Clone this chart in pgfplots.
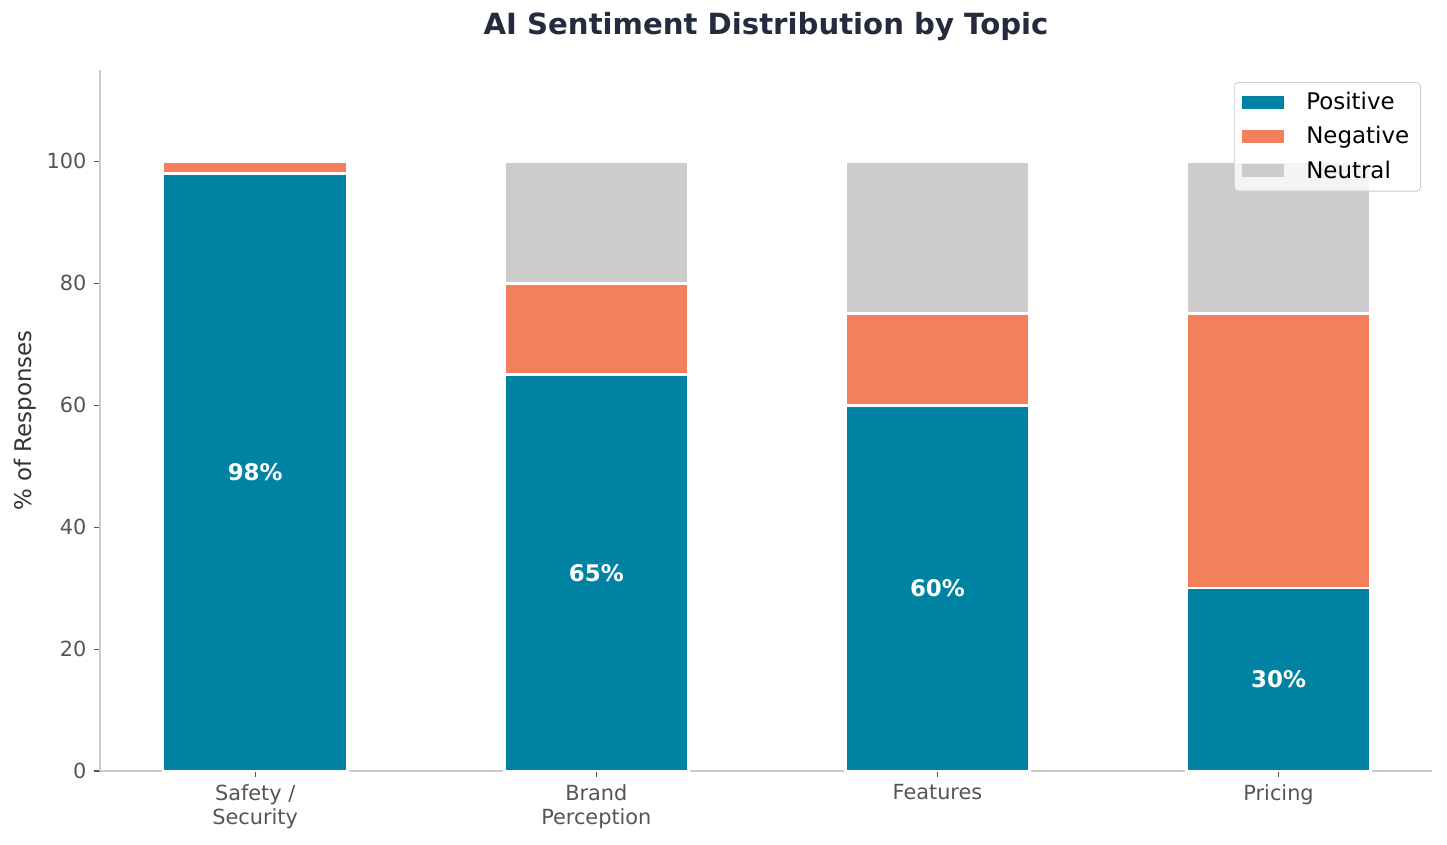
\documentclass[border=0pt]{standalone}
\usepackage{pgfplots}
\pgfplotsset{compat=1.18}
\usepackage{fontspec}
\setmainfont{DejaVu Sans}
\definecolor{pos}{RGB}{0,131,162}
\definecolor{neg}{RGB}{244,127,92}
\definecolor{neu}{RGB}{205,203,206}
\definecolor{spine}{RGB}{204,204,204}
\definecolor{tickgray}{RGB}{85,85,85}
\definecolor{titlec}{RGB}{38,42,62}
\definecolor{labelc}{RGB}{51,51,51}
\begin{document}
\begin{tikzpicture}
\begin{axis}[
  at={(0pt,0pt)}, anchor=south west,
  scale only axis, width=639.4pt, height=336.5pt,
  ybar stacked, bar width=0.54,
  xmin=-0.455, xmax=3.45, ymin=0, ymax=115,
  axis x line*=bottom, axis y line*=left,
  axis line style={draw=spine, line width=0.75pt, -},
  tick align=outside,
  major tick length=3pt,
  tick style={draw=tickgray, line width=0.5pt},
  xtick={0,1,2,3},
  xticklabels={{Safety /\\Security},{Brand\\Perception},{Features},{Pricing}},
  xticklabel style={align=center, font=\fontsize{10}{11.5}\selectfont, text=tickgray},
  ytick={0,20,40,60,80,100},
  yticklabel style={font=\fontsize{10}{12}\selectfont, text=tickgray},
  /pgf/number format/assume math mode=true,
  ylabel={\% of Responses},
  ylabel style={at={(axis description cs:0,0.5)}, anchor=center, yshift=36pt, font=\fontsize{11}{13}\selectfont, text=labelc},
  title={\bfseries AI Sentiment Distribution by Topic},
  title style={at={(axis description cs:0.5,1)}, anchor=center, yshift=14.6pt, font=\fontsize{14}{16}\selectfont, text=titlec},
  every axis plot/.append style={draw=white, line width=1.3pt},
  legend cell align=left,
  legend image code/.code={\fill[#1, draw=none, sharp corners, fill opacity=1] (0pt,-3.1pt) rectangle (20.6pt,3.1pt);},
  legend style={at={(1,1)}, anchor=north east, xshift=-5.3pt, yshift=-5.8pt,
    draw=spine, fill=white, fill opacity=0.8, text opacity=1, rounded corners=2pt,
    font=\fontsize{11}{13}\selectfont, row sep=2.5pt, column sep=8.5pt, inner xsep=3.5pt, inner ysep=2.8pt,
    nodes={inner sep=2pt, text=black}},
]
\addplot[fill=pos] coordinates {(0,98) (1,65) (2,60) (3,30)};
\addplot[fill=neg] coordinates {(0,2) (1,15) (2,15) (3,45)};
\addplot[fill=neu] coordinates {(0,0) (1,20) (2,25) (3,25)};
\legend{Positive,Negative,Neutral}
\coordinate (l0) at (axis cs:0,49);
\coordinate (l1) at (axis cs:1,32.5);
\coordinate (l2) at (axis cs:2,30);
\coordinate (l3) at (axis cs:3,15);
\end{axis}
\begin{scope}[every node/.style={text=white, font=\fontsize{11}{13}\selectfont\bfseries}]
\node at (l0) {98\%};
\node at (l1) {65\%};
\node at (l2) {60\%};
\node at (l3) {30\%};
\end{scope}
\pgfresetboundingbox
\path (-48pt,-35.04pt) rectangle (646.56pt,370.08pt);
\end{tikzpicture}
\end{document}
